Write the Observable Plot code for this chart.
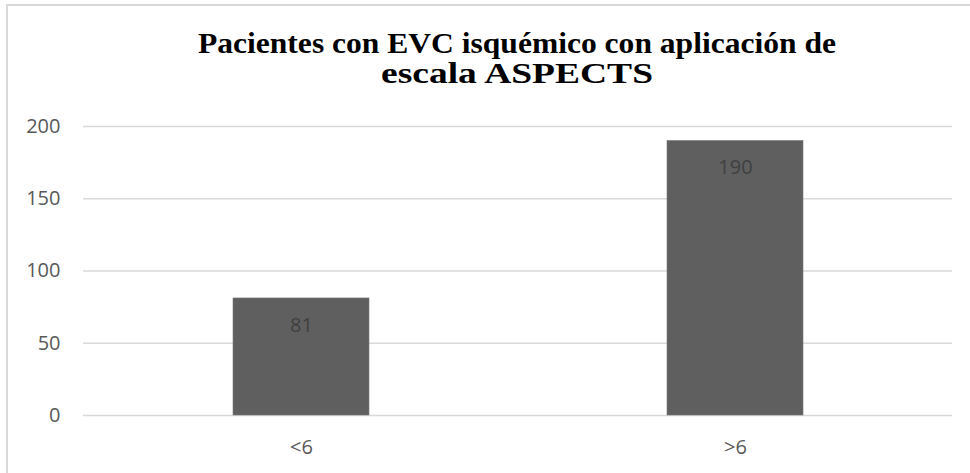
<!DOCTYPE html>
<html>
<head>
<meta charset="utf-8">
<script src="https://cdn.jsdelivr.net/npm/d3@7"></script>
<script src="https://cdn.jsdelivr.net/npm/@observablehq/plot@0.6"></script>
<style>
  html, body { margin: 0; padding: 0; background: #fff; }
  #wrap { position: relative; width: 970px; height: 473px; overflow: hidden; background: #fff; }
  #frame { position: absolute; left: 6px; top: 4px; width: 1100px; height: 1000px; border: 2px solid #d9d9d9; box-sizing: border-box; }
  .tline { position: absolute; white-space: nowrap; transform-origin: 0 0;
           font-family: "Liberation Serif", "Times New Roman", serif; font-weight: bold;
           font-size: 30px; line-height: 30px; color: #000; }
  #chart { position: absolute; left: 0; top: 0; }
</style>
</head>
<body>
<div id="wrap">
  <div id="frame"></div>
  <div id="chart"></div>
  <div class="tline" id="t1" style="top:28px">Pacientes con EVC isquémico con aplicación de</div>
  <div class="tline" id="t2" style="top:58px">escala ASPECTS</div>
</div>
<script>
const categories = ["<6", ">6"];
const values = [81, 190];
const yTicks = [0, 50, 100, 150, 200];

const data = categories.map((c, i) => ({category: c, value: values[i]}));
const font = "'Open Sans', 'Noto Sans', sans-serif";

const chart = Plot.plot({
  width: 970,
  height: 473,
  marginLeft: 83,
  marginRight: 18,
  marginTop: 126,
  marginBottom: 58,
  style: {fontFamily: font, fontSize: "20px", background: "transparent", overflow: "visible"},
  x: {domain: categories, paddingInner: 0.687, paddingOuter: 0.3435, label: null},
  y: {domain: [0, 200], label: null},
  marks: [
    Plot.ruleY(yTicks, {stroke: "#d9d9d9", strokeWidth: 1.5}),
    Plot.barY(data, {x: "category", y: "value", fill: "#5f5f5f", stroke: "#7a7a7a", strokeWidth: 0.6}),
    Plot.text(data, {x: "category", y: "value", text: d => String(d.value), dy: 27, fill: "#404040", fontSize: 20, fontFamily: font}),
    Plot.axisY({ticks: yTicks, tickSize: 0, tickPadding: 23, color: "#595959", fontSize: 20, label: null}),
    Plot.axisX({tickSize: 0, tickPadding: 24, color: "#595959", fontSize: 20, label: null})
  ]
});
document.getElementById("chart").appendChild(chart);

// fit each title line to its span in the reference
function fit(id, x0, x1) {
  const el = document.getElementById(id);
  const w = el.getBoundingClientRect().width;
  el.style.left = x0 + "px";
  el.style.transform = `scaleX(${(x1 - x0) / w})`;
}
fit("t1", 198, 836);
fit("t2", 381, 653);
</script>
</body>
</html>
